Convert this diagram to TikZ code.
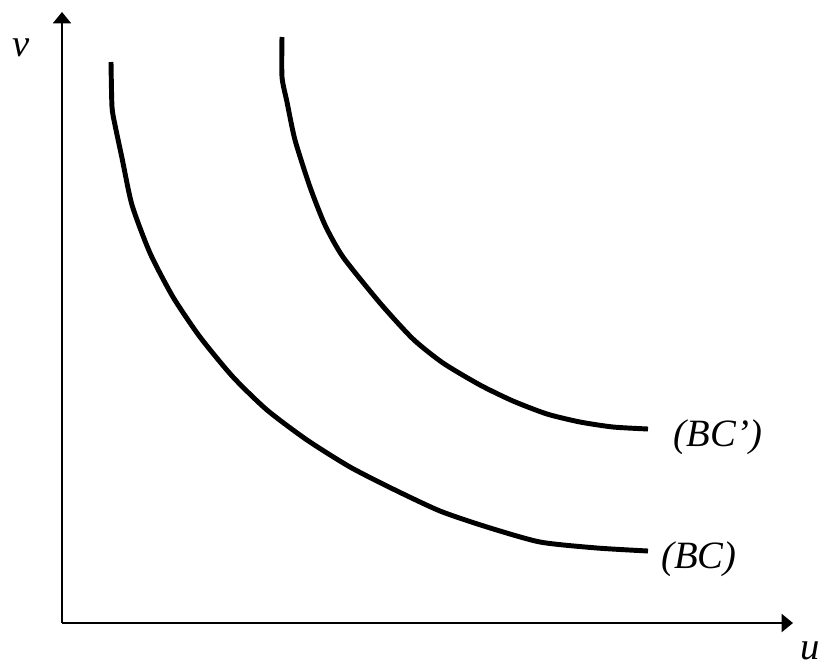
\documentclass[tikz,border=0pt]{standalone}
\usepackage{fontspec}
\setmainfont{Liberation Serif}
\usetikzlibrary{arrows.meta}

\begin{document}
\begin{tikzpicture}[
  x=0.75pt, y=-0.75pt,
  axis/.style={line width=1.5pt, -{Triangle[length=8.5pt, width=13.5pt]}},
  curve/.style={line width=3.7pt, line join=round},
  lbl/.style={font=\fontsize{29}{33}\selectfont\itshape, inner sep=0pt},
]
\useasboundingbox (0,0) rectangle (829,669);

% axes
\coordinate (O) at (62,623);
\coordinate (vtip) at (62,12);
\coordinate (utip) at (793,623);
\draw[axis] (O) -- (vtip);
\draw[axis] (O) -- (utip);
\node[lbl] (v) at (21,48) {v};
\node[lbl] (u) at (810,651) {u};

% budget curves
\draw[curve] plot[smooth, tension=0.4] coordinates {
  (111,62) (112,107) (115,125) (122,158) (132,205) (150,253) (173,297)
  (200,337) (233,377) (267,410) (307,440) (350,467) (393,489) (440,511)
  (487,527) (540,542) (597,548) (648,551)};
\draw[curve] plot[smooth, tension=0.4] coordinates {
  (282,37) (282,77) (287,102) (295,140) (310,187) (325,225) (343,257)
  (380,303) (413,339) (443,363) (480,385) (513,401) (547,414) (580,422)
  (613,427) (648,429)};

\node[lbl] (bcp) at (718,437) {(BC’)};
\node[lbl] (bc) at (699,559) {(BC)};
\end{tikzpicture}
\end{document}
